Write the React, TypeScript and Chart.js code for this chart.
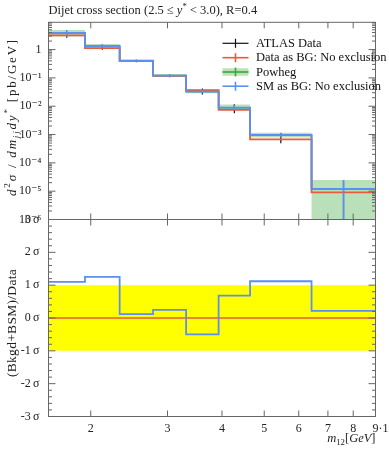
import React, { useEffect, useRef } from "react";
import { Chart, registerables } from "chart.js";

Chart.register(...registerables);

// ---------------- data ----------------
const binEdges = [1600, 1940, 2330, 2780, 3310, 3930, 4640, 6420, 9000];
const dataValues = [3.19, 1.13, 0.4, 0.118, 0.0366, 0.00745, 0.00068, 9.1e-6];
const dataErrLow = [2.6, 0.98, 0.36, 0.106, 0.026, 0.0057, 0.000495, 1e-7];
const dataErrHigh = [3.8, 1.29, 0.44, 0.13, 0.042, 0.0117, 0.00112, 2.3e-5];
const smValues = [3.85, 1.33, 0.405, 0.121, 0.033, 0.0089, 0.00097, 1.2e-5];
const powhegLow = [2.9, 1.15, 0.37, 0.108, 0.029, 0.0076, 0.00078, 1e-7];
const powhegHigh = [4.9, 1.57, 0.44, 0.135, 0.038, 0.0114, 0.00115, 2.5e-5];
const significance = [1.1, 1.25, 0.12, 0.25, -0.5, 0.68, 1.12, 0.22];

const xTickValues = [2000, 3000, 4000, 5000, 6000, 7000, 8000, 9000];
const xTickLabels = ["2", "3", "4", "5", "6", "7", "8", "9"];
const xTickExponent = "·10³";
const yTopTickValues = [1e-6, 1e-5, 1e-4, 1e-3, 1e-2, 1e-1, 1];
const yTopTickLabels = ["10⁻⁶", "10⁻⁵", "10⁻⁴", "10⁻³", "10⁻²", "10⁻¹", "1"];
const yBottomTickValues = [-3, -2, -1, 0, 1, 2, 3];
const yBottomTickLabels = ["-3\u2009σ", "-2\u2009σ", "-1\u2009σ", "0\u2009σ", "1\u2009σ", "2\u2009σ", "3\u2009σ"];

const legendLabels = ["ATLAS Data", "Data as BG: No exclusion", "Powheg", "SM as BG: No exclusion"];

// ---------------- style ----------------
const FONT = "'Liberation Serif', 'DejaVu Serif', serif";
const RED = "#ea5a3c";
const BLUE = "#5b8ff0";
const GREEN_LINE = "#3da83d";
const GREEN_BAND = "rgba(90,180,90,0.42)";
const FRAME = "#666";
const W = 389;
const H = 450;
const TOP_Y0 = 22.3;
const MID_Y = 219.5;
const BOT_Y1 = 416.5;
const LEFT = 48.5;
const RIGHT = 375.5;
const TICK_FONT = 12;
const X_TICK_PAD = 5;

type Seg = { t: string; it?: boolean; sub?: boolean; sup?: boolean };

function drawRich(
  ctx: CanvasRenderingContext2D,
  segs: Seg[],
  x: number,
  y: number,
  size: number,
  align: "left" | "center" | "right",
  spacing = 0
) {
  const fontFor = (s: Seg) => `${s.it ? "italic " : ""}${s.sub || s.sup ? size * 0.7 : size}px ${FONT}`;
  const c: any = ctx;
  c.letterSpacing = `${spacing}px`;
  let total = 0;
  for (const s of segs) {
    ctx.font = fontFor(s);
    total += ctx.measureText(s.t).width;
  }
  let cx = align === "left" ? x : align === "center" ? x - total / 2 : x - total;
  ctx.textBaseline = "alphabetic";
  ctx.textAlign = "left";
  for (const s of segs) {
    ctx.font = fontFor(s);
    const dy = s.sub ? size * 0.25 : s.sup ? -size * 0.4 : 0;
    ctx.fillText(s.t, cx, y + dy);
    cx += ctx.measureText(s.t).width;
  }
  c.letterSpacing = "0px";
}

function stepPoints(values: number[]) {
  return binEdges.map((x, i) => ({ x, y: values[Math.min(i, values.length - 1)] }));
}

function errPoints(lo: number[], hi: number[]) {
  const pts: { x: number; y: number | null }[] = [];
  for (let i = 0; i < lo.length; i++) {
    const c = Math.sqrt(binEdges[i] * binEdges[i + 1]);
    pts.push({ x: c, y: lo[i] }, { x: c, y: hi[i] }, { x: c, y: null });
  }
  return pts;
}

function hLine(ctx: CanvasRenderingContext2D, x1: number, x2: number, y: number) {
  ctx.beginPath();
  ctx.moveTo(x1, y);
  ctx.lineTo(x2, y);
  ctx.stroke();
}
function vLine(ctx: CanvasRenderingContext2D, x: number, y1: number, y2: number) {
  ctx.beginPath();
  ctx.moveTo(x, y1);
  ctx.lineTo(x, y2);
  ctx.stroke();
}

function drawFrameAndTicks(chart: any, yMajor: number[], yMinor: number[]) {
  const ctx: CanvasRenderingContext2D = chart.ctx;
  const a = chart.chartArea;
  const xs = chart.scales.x;
  const ys = chart.scales.y;
  ctx.save();
  ctx.strokeStyle = FRAME;
  ctx.lineWidth = 1;
  ctx.strokeRect(a.left, a.top, a.right - a.left, a.bottom - a.top);
  const inY = (y: number) => y >= a.top - 0.5 && y <= a.bottom + 0.5;
  for (const v of yMajor) {
    const y = ys.getPixelForValue(v);
    if (!inY(y)) continue;
    hLine(ctx, a.left, a.left + 7, y);
    hLine(ctx, a.right - 7, a.right, y);
  }
  for (const v of yMinor) {
    const y = ys.getPixelForValue(v);
    if (!inY(y)) continue;
    hLine(ctx, a.left, a.left + 3.5, y);
    hLine(ctx, a.right - 3.5, a.right, y);
  }
  for (const v of xTickValues) {
    const x = xs.getPixelForValue(v);
    vLine(ctx, x, a.top, a.top + 6);
    vLine(ctx, x, a.bottom - 6, a.bottom);
  }
  ctx.restore();
}

const topMinor: number[] = [];
for (let d = -6; d <= 0; d++) for (let k = 2; k <= 9; k++) topMinor.push(k * Math.pow(10, d));
const bottomMinor: number[] = [];
for (let i = -15; i <= 15; i++) if (i % 5 !== 0) bottomMinor.push(i / 5);

const topPlugin = {
  id: "topDecor",
  afterDatasetsDraw(chart: any) {
    drawFrameAndTicks(chart, yTopTickValues, topMinor);
    const ctx: CanvasRenderingContext2D = chart.ctx;
    ctx.save();
    ctx.fillStyle = "#222";
    // title
    drawRich(ctx, [{ t: "Dijet cross section (2.5 ≤ " }, { t: "y", it: true }, { t: "*", sup: true }, { t: " < 3.0), R=0.4" }], LEFT, 14, 12.5, "left");
    // y axis title
    ctx.save();
    ctx.translate(15.5, 117);
    ctx.rotate(-Math.PI / 2);
    drawRich(
      ctx,
      [
        { t: "d", it: true },
        { t: "2", sup: true },
        { t: "σ", it: true },
        { t: " / " },
        { t: "dm", it: true },
        { t: "jj", it: true, sub: true },
        { t: "dy", it: true },
        { t: "*", sup: true },
        { t: " [pb/GeV]" },
      ],
      0,
      0,
      13,
      "center",
      1.8
    );
    ctx.restore();
    // legend
    const rows = [43.3, 57.7, 72, 86.2];
    const colors = ["#111", RED, GREEN_LINE, BLUE];
    const lx1 = 222.5;
    const lx2 = 248.5;
    const lc = (lx1 + lx2) / 2;
    rows.forEach((ry, i) => {
      if (i === 2) {
        ctx.fillStyle = GREEN_BAND;
        ctx.fillRect(lx1, ry - 3.7, lx2 - lx1, 7.4);
      }
      ctx.strokeStyle = colors[i];
      ctx.lineWidth = i === 0 ? 1.2 : 1.6;
      hLine(ctx, lx1, lx2, ry);
      vLine(ctx, lc, ry - 4.5, ry + 4.5);
      ctx.fillStyle = "#111";
      ctx.font = `12.5px ${FONT}`;
      ctx.textBaseline = "middle";
      ctx.textAlign = "left";
      ctx.fillText(legendLabels[i], 256, ry + 0.5);
    });
    ctx.restore();
  },
};

const bottomPlugin = {
  id: "bottomDecor",
  afterDatasetsDraw(chart: any) {
    drawFrameAndTicks(chart, yBottomTickValues, bottomMinor);
    const ctx: CanvasRenderingContext2D = chart.ctx;
    ctx.save();
    ctx.fillStyle = "#222";
    ctx.save();
    ctx.translate(15.5, 323);
    ctx.rotate(-Math.PI / 2);
    drawRich(ctx, [{ t: "(Bkgd+BSM)/Data" }], 0, 0, 13.5, "center", 0.3);
    ctx.restore();
    drawRich(ctx, [{ t: "m", it: true }, { t: "12", sub: true }, { t: "[" }, { t: "GeV", it: true }, { t: "]" }], RIGHT, 442, 12.5, "right");
    // exponent attached to the last x tick label
    const xs = chart.scales.x;
    const lastX = xs.getPixelForValue(xTickValues[xTickValues.length - 1]);
    ctx.font = `${TICK_FONT}px ${FONT}`;
    const halfW = ctx.measureText(xTickLabels[xTickLabels.length - 1]).width / 2;
    ctx.textAlign = "left";
    ctx.textBaseline = "middle";
    ctx.fillText(xTickExponent, lastX + halfW, BOT_Y1 + X_TICK_PAD + TICK_FONT * 0.6);
    ctx.restore();
  },
};

function labelFor(values: number[], labels: string[], v: number, log: boolean) {
  for (let i = 0; i < values.length; i++) {
    const d = log ? Math.abs(Math.log10(v) - Math.log10(values[i])) : Math.abs(v - values[i]);
    if (d < 1e-6) return labels[i];
  }
  return "";
}

export default function App() {
  const topRef = useRef<HTMLCanvasElement>(null);
  const botRef = useRef<HTMLCanvasElement>(null);

  useEffect(() => {
    document.body.style.margin = "0";
    const lineBase = { pointRadius: 0, tension: 0, fill: false, spanGaps: false };
    const top = new Chart(topRef.current!, {
      type: "line",
      data: {
        datasets: [
          { ...lineBase, data: stepPoints(powhegLow), stepped: "before", borderWidth: 0, borderColor: "rgba(0,0,0,0)", order: 10 },
          { ...lineBase, data: stepPoints(powhegHigh), stepped: "before", borderWidth: 0, borderColor: "rgba(0,0,0,0)", fill: 0, backgroundColor: GREEN_BAND, order: 10 },
          { ...lineBase, data: stepPoints(smValues), stepped: "before", borderWidth: 1.5, borderColor: GREEN_LINE, order: 9 },
          { ...lineBase, data: errPoints(dataErrLow, dataErrHigh), borderWidth: 1.2, borderColor: "#111", order: 8 },
          { ...lineBase, data: stepPoints(dataValues), stepped: "before", borderWidth: 1.8, borderColor: RED, order: 7 },
          { ...lineBase, data: stepPoints(smValues), stepped: "before", borderWidth: 1.8, borderColor: BLUE, order: 6 },
          { ...lineBase, data: errPoints(powhegLow, powhegHigh), borderWidth: 1.6, borderColor: BLUE, order: 5 },
        ] as any,
      },
      options: {
        animation: false,
        responsive: false,
        events: [],
        layout: { padding: { left: 0, right: W - RIGHT, top: TOP_Y0, bottom: H - MID_Y } },
        plugins: { legend: { display: false }, tooltip: { enabled: false }, title: { display: false } },
        scales: {
          x: { type: "logarithmic", min: binEdges[0], max: binEdges[binEdges.length - 1], display: false },
          y: {
            type: "logarithmic",
            min: 1e-6,
            max: 9.2,
            afterFit: (s: any) => {
              s.width = LEFT;
            },
            afterBuildTicks: (s: any) => {
              s.ticks = yTopTickValues.map((v) => ({ value: v }));
            },
            grid: { display: false, drawTicks: false },
            border: { display: false },
            ticks: {
              autoSkip: false,
              padding: 7,
              color: "#222",
              font: { family: FONT, size: TICK_FONT },
              callback: (v: any) => labelFor(yTopTickValues, yTopTickLabels, Number(v), true),
            },
          },
        },
      } as any,
      plugins: [topPlugin],
    });

    const bottom = new Chart(botRef.current!, {
      type: "line",
      data: {
        datasets: [
          { ...lineBase, data: [{ x: binEdges[0], y: -1 }, { x: binEdges[binEdges.length - 1], y: -1 }], borderWidth: 0, borderColor: "rgba(0,0,0,0)", order: 10 },
          { ...lineBase, data: [{ x: binEdges[0], y: 1 }, { x: binEdges[binEdges.length - 1], y: 1 }], borderWidth: 0, borderColor: "rgba(0,0,0,0)", fill: 0, backgroundColor: "#ffff00", order: 10 },
          { ...lineBase, data: [{ x: binEdges[0], y: 0 }, { x: binEdges[binEdges.length - 1], y: 0 }], borderWidth: 1.5, borderColor: RED, order: 7 },
          { ...lineBase, data: stepPoints(significance), stepped: "before", borderWidth: 1.8, borderColor: BLUE, order: 6 },
        ] as any,
      },
      options: {
        animation: false,
        responsive: false,
        events: [],
        layout: { padding: { left: 0, right: W - RIGHT, top: MID_Y, bottom: 0 } },
        plugins: { legend: { display: false }, tooltip: { enabled: false }, title: { display: false } },
        scales: {
          x: {
            type: "logarithmic",
            min: binEdges[0],
            max: binEdges[binEdges.length - 1],
            afterFit: (s: any) => {
              s.height = H - BOT_Y1;
            },
            afterBuildTicks: (s: any) => {
              s.ticks = xTickValues.map((v) => ({ value: v }));
            },
            grid: { display: false, drawTicks: false },
            border: { display: false },
            ticks: {
              autoSkip: false,
              maxRotation: 0,
              minRotation: 0,
              padding: X_TICK_PAD,
              color: "#222",
              font: { family: FONT, size: TICK_FONT },
              callback: (v: any) => labelFor(xTickValues, xTickLabels, Number(v), true),
            },
          },
          y: {
            type: "linear",
            min: -3,
            max: 3,
            afterFit: (s: any) => {
              s.width = LEFT;
            },
            afterBuildTicks: (s: any) => {
              s.ticks = yBottomTickValues.map((v) => ({ value: v }));
            },
            grid: { display: false, drawTicks: false },
            border: { display: false },
            ticks: {
              autoSkip: false,
              padding: 9,
              color: "#222",
              font: { family: FONT, size: TICK_FONT },
              callback: (v: any) => labelFor(yBottomTickValues, yBottomTickLabels, Number(v), false),
            },
          },
        },
      } as any,
      plugins: [bottomPlugin],
    });

    return () => {
      top.destroy();
      bottom.destroy();
    };
  }, []);

  return (
    <div style={{ position: "relative", width: W, height: H, background: "#fff" }}>
      <canvas ref={botRef} width={W} height={H} style={{ position: "absolute", left: 0, top: 0 }} />
      <canvas ref={topRef} width={W} height={H} style={{ position: "absolute", left: 0, top: 0 }} />
    </div>
  );
}
